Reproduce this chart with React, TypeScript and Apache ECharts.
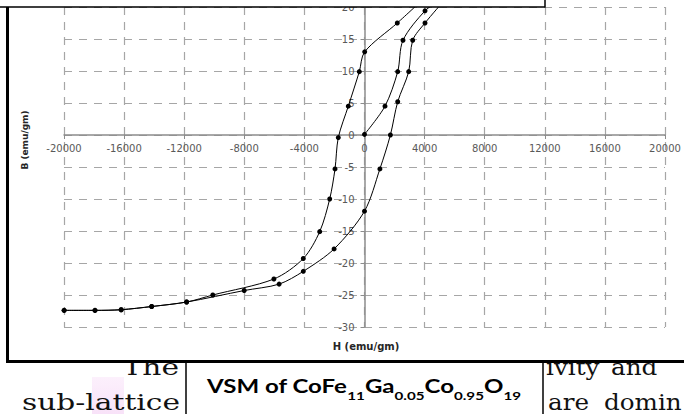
import React, { useEffect, useRef } from "react";
import * as echarts from "echarts";

// Descending branch (from +H saturation to -H)
const descH = [3900, 2183, 13, -346, -1078, -1744, -1963, -2316, -2982, -4073, -6030, -10097, -11841, -14164, -16194, -17937, -19990];
const descB = [21.2, 17.5, 13.0, 9.9, 4.5, -0.4, -5.3, -10.0, -15.1, -19.3, -22.5, -25.0, -26.1, -26.8, -27.3, -27.4, -27.4];
// Ascending branch (from -H saturation to +H)
const ascH = [-19990, -17937, -16194, -14164, -11841, -8007, -5684, -4073, -2023, 0, 1025, 1723, 2210, 2941, 3208, 4027, 5300];
const ascB = [-27.4, -27.4, -27.3, -26.8, -26.1, -24.3, -23.3, -21.3, -17.8, -11.9, -5.3, 0, 5.2, 9.9, 14.8, 17.5, 21.0];
// Initial magnetisation curve
const initH = [0, 1364, 2210, 2562, 4027, 5000];
const initB = [0.1, 4.5, 9.9, 14.8, 19.4, 21.0];

const captionParts: [string, boolean][] = [
  ["VSM of CoFe", false],
  ["11", true],
  ["Ga", false],
  ["0.05", true],
  ["Co", false],
  ["0.95", true],
  ["O", false],
  ["19", true],
];

const xTitle = "H (emu/gm)";
const yTitle = "B (emu/gm)";

function measure(text: string, font: string): number {
  const c = document.createElement("canvas").getContext("2d");
  if (!c) return text.length * 10;
  c.font = font;
  return c.measureText(text).width;
}

export default function App() {
  const ref = useRef<HTMLDivElement>(null);
  useEffect(() => {
    if (!ref.current) return;
    const chart = echarts.init(ref.current, undefined, { renderer: "svg" });

    const W = 684, H = 414;
    const gLeft = 64, gRight = 19, gTop = 7, gBottom = 87;
    const xMin = -20000, xMax = 20000, yMin = -30, yMax = 20;
    const plotW = W - gLeft - gRight;
    const plotH = H - gTop - gBottom;
    // move the axes onto the zero lines
    const xOffset = -((0 - yMin) / (yMax - yMin)) * plotH;
    const yOffset = -((0 - xMin) / (xMax - xMin)) * plotW;

    const serif = "DejaVu Serif";
    const serifSize = 22;
    const serifFont = `${serifSize}px "${serif}"`;
    const sxL = 158 / measure("sub-lattice", serifFont);
    const sxR = 1.12;

    const capFamily = "Lato";
    const mainSize = 19;
    const subSize = 12;
    let off = 0;
    const capChildren: any[] = [];
    captionParts.forEach(([t, sub]) => {
      const fs = sub ? subSize : mainSize;
      const w = measure(t, `bold ${fs}px ${capFamily}`);
      capChildren.push({
        type: "text",
        x: off,
        y: sub ? 396 : 386,
        style: {
          text: t,
          fontFamily: capFamily,
          fontWeight: "bold",
          fontSize: fs,
          fill: "#000",
          align: "left",
          verticalAlign: "middle",
        },
      });
      off += w;
    });
    const capScale = 314 / off;

    const serifText = (text: string, x: number, y: number, align: string, sx: number) => ({
      type: "text",
      x,
      y,
      scaleX: sx,
      z: -10,
      style: {
        text,
        fontFamily: serif,
        fontSize: serifSize,
        fill: "#111",
        align,
        verticalAlign: "middle",
      },
    });

    const lineStyle = { color: "#000", width: 1 };
    const mk = (h: number[], b: number[]) => h.map((v, i) => [v, b[i]]);
    const axisColor = "#8c8c8c";
    const gridLine = { show: true, lineStyle: { type: [8, 7], color: "#a6a6a6", width: 1.2 } };

    chart.setOption({
      animation: false,
      grid: { left: gLeft, right: gRight, top: gTop, bottom: gBottom, containLabel: false },
      xAxis: {
        type: "value",
        min: xMin,
        max: xMax,
        interval: 4000,
        position: "bottom",
        offset: xOffset,
        axisLine: { onZero: false, lineStyle: { color: axisColor, width: 1.5 } },
        axisTick: { show: true, length: 4, lineStyle: { color: axisColor } },
        axisLabel: { color: "#595959", fontFamily: "DejaVu Sans", fontSize: 10, margin: 8, formatter: (v: number) => String(v) },
        splitLine: gridLine,
      },
      yAxis: {
        type: "value",
        min: yMin,
        max: yMax,
        interval: 5,
        position: "left",
        offset: yOffset,
        axisLine: { onZero: false, lineStyle: { color: axisColor, width: 1.5 } },
        axisTick: { show: true, length: 4, lineStyle: { color: axisColor } },
        axisLabel: { color: "#595959", fontFamily: "DejaVu Sans", fontSize: 10, margin: 10, formatter: (v: number) => String(v) },
        splitLine: gridLine,
      },
      series: [
        { type: "line", data: mk(descH, descB), smooth: 0.3, symbol: "circle", symbolSize: 5, lineStyle, itemStyle: { color: "#000" }, clip: true },
        { type: "line", data: mk(ascH, ascB), smooth: 0.3, symbol: "circle", symbolSize: 5, lineStyle, itemStyle: { color: "#000" }, clip: true },
        { type: "line", data: mk(initH, initB), smooth: 0.3, symbol: "circle", symbolSize: 5, lineStyle, itemStyle: { color: "#000" }, clip: true },
      ],
      graphic: [
        // document text behind the chart image
        serifText("The", 179, 367, "right", sxL),
        serifText("sub-lattice", 22, 402, "left", sxL),
        serifText("ivity", 546, 367, "left", sxR),
        serifText("and", 611, 367, "left", sxR),
        serifText("are", 548, 402, "left", sxR),
        serifText("domin", 604, 402, "left", sxR),
        {
          type: "rect",
          z: -11,
          shape: { x: 92, y: 377, width: 32, height: 37 },
          style: {
            fill: {
              type: "linear", x: 0, y: 0, x2: 0, y2: 1,
              colorStops: [
                { offset: 0, color: "#fcf0fc" },
                { offset: 1, color: "#f8e2f8" },
              ],
            },
          },
        },
        // white chart image area
        { type: "rect", z: -5, shape: { x: 0, y: 0, width: 684, height: 360 }, style: { fill: "#fff" } },
        // axis titles
        {
          type: "text",
          x: 25,
          y: 140,
          rotation: Math.PI / 2,
          z: 50,
          style: { text: yTitle, fontFamily: "DejaVu Sans", fontWeight: "bold", fontSize: 9, fill: "#262626", align: "center", verticalAlign: "middle" },
        },
        {
          type: "text",
          x: 366,
          y: 346,
          z: 50,
          style: { text: xTitle, fontFamily: "DejaVu Sans", fontWeight: "bold", fontSize: 10, fill: "#262626", align: "center", verticalAlign: "middle" },
        },
        // chart frame
        { type: "line", z: 100, shape: { x1: 7.5, y1: 7, x2: 7.5, y2: 362 }, style: { stroke: "#000", lineWidth: 3 } },
        { type: "line", z: 100, shape: { x1: 6, y1: 361.5, x2: 684, y2: 361.5 }, style: { stroke: "#000", lineWidth: 3 } },
        // overlapping box at top
        { type: "rect", z: 100, shape: { x: 0, y: 0, width: 545, height: 7 }, style: { fill: "#fff" } },
        { type: "polyline", z: 101, shape: { points: [[0, 7], [545, 7], [545, 0]] }, style: { stroke: "#000", lineWidth: 1.5, fill: null } },
        // caption box
        { type: "line", z: 100, shape: { x1: 186, y1: 361, x2: 186, y2: 414 }, style: { stroke: "#000", lineWidth: 1.5 } },
        { type: "line", z: 100, shape: { x1: 543, y1: 361, x2: 543, y2: 414 }, style: { stroke: "#000", lineWidth: 1.5 } },
        { type: "group", x: 207, y: 0, scaleX: capScale, z: 100, children: capChildren },
      ],
    });
    return () => chart.dispose();
  }, []);
  return <div ref={ref} style={{ width: 684, height: 414, position: "absolute", left: 0, top: 0 }} />;
}
